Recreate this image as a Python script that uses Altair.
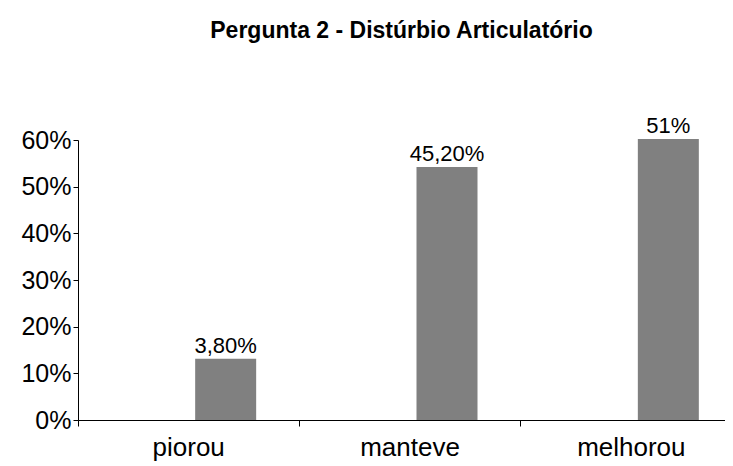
import altair as alt
import pandas as pd

categories = ["piorou", "manteve", "melhorou"]
bar_heights = [0.131, 0.542, 0.602]
bar_labels = ["3,80%", "45,20%", "51%"]
y_ticks = [0, 0.1, 0.2, 0.3, 0.4, 0.5, 0.6]

df = pd.DataFrame({"cat": categories, "val": bar_heights, "lab": bar_labels})

FONT = "Liberation Sans"

x = alt.X("cat:N", sort=categories, title=None,
          scale=alt.Scale(range=[0, 664], paddingInner=0, paddingOuter=0),
          axis=alt.Axis(bandPosition=0, labelAngle=0,
                        labelFontSize=26, labelFont=FONT, labelColor="black",
                        labelPadding=8, tickSize=6, tickColor="black",
                        domainColor="black", grid=False))
y = alt.Y("val:Q", title=None,
          scale=alt.Scale(domain=[0, 0.6], nice=False),
          axis=alt.Axis(values=y_ticks, format=".0%", labelFontSize=25,
                        labelFont=FONT, labelColor="black", tickSize=5,
                        tickColor="black", domainColor="black", grid=False,
                        labelPadding=2))

bars = alt.Chart(df).mark_bar(color="#808080", size=61, xOffset=37).encode(x=x, y=y)
texts = alt.Chart(df).mark_text(font=FONT, fontSize=22, color="black",
                                baseline="bottom", dy=-1, dx=37).encode(
    x=alt.X("cat:N", sort=categories), y="val:Q", text="lab:N")

chart = alt.layer(bars, texts).properties(
    width=647, height=280,
    autosize=alt.AutoSizeParams(type="none"),
    padding={"left": 70, "top": 132, "right": 0, "bottom": 44},
    title=alt.TitleParams("Pergunta 2 - Distúrbio Articulatório", font=FONT,
                          fontSize=23, fontWeight="bold", color="black",
                          offset=72),
).configure_view(stroke=None)

chart.save("out.html", embed_options={"renderer": "svg", "actions": False})
